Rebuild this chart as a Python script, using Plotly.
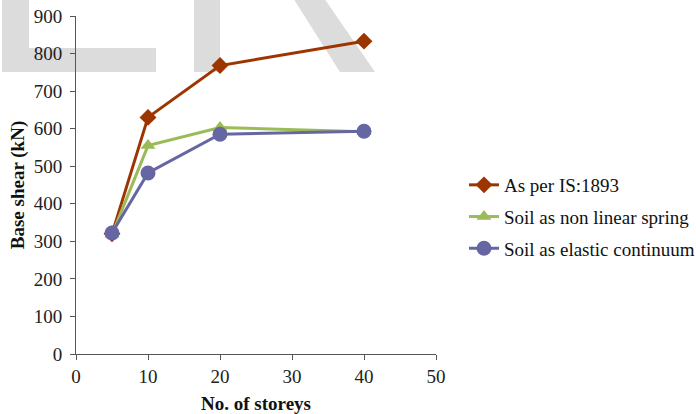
import plotly.graph_objects as go

storeys = [5, 10, 20, 40]
is1893 = [320, 630, 768, 833]
nonlinear_spring = [318, 555, 603, 592]
elastic_continuum = [322, 482, 585, 593]

x_ticks = [0, 10, 20, 30, 40, 50]
y_ticks = [0, 100, 200, 300, 400, 500, 600, 700, 800, 900]

W, H = 696, 414
L, R, T, B = 76, 260, 16, 60
pw, ph = W - L - R, H - T - B

def px(x):
    return (x - L) / pw

def py(y):
    return (H - B - y) / ph

font = "Liberation Serif"
FS = 19

fig = go.Figure()
fig.add_trace(go.Scatter(x=storeys, y=is1893, name="As per IS:1893", mode="lines+markers",
                         line=dict(color="#9C3500", width=3),
                         marker=dict(symbol="diamond", size=13, color="#9C3500"),
                         legendgroup="a"))
fig.add_trace(go.Scatter(x=storeys, y=nonlinear_spring, name="Soil as non linear spring", mode="lines+markers",
                         line=dict(color="#9BBB59", width=3),
                         marker=dict(symbol="triangle-up", size=13, color="#9BBB59"),
                         legendgroup="b"))
fig.add_trace(go.Scatter(x=storeys, y=elastic_continuum, name="Soil as elastic continuum", mode="lines+markers",
                         line=dict(color="#6666A3", width=3),
                         marker=dict(symbol="circle", size=15, color="#6666A3"),
                         legendgroup="c"))

gray = "#DCDCDC"
shapes = []
def rect(x0, y0, x1, y1):
    shapes.append(dict(type="rect", xref="paper", yref="paper",
                       x0=px(x0), x1=px(x1), y0=py(y1), y1=py(y0),
                       fillcolor=gray, line=dict(width=0), layer="below"))
rect(2, -2, 29, 72)
rect(2, 48, 156, 72)
rect(194, -2, 220, 72)
pts = [(293, -2), (324, -2), (375, 72), (340, 72)]
path = "M " + " L ".join(f"{px(a)},{py(b)}" for a, b in pts) + " Z"
shapes.append(dict(type="path", xref="paper", yref="paper", path=path,
                   fillcolor=gray, line=dict(width=0), layer="below"))

fig.update_layout(
    width=W, height=H,
    margin=dict(l=L, r=R, t=T, b=B, autoexpand=False),
    paper_bgcolor="white", plot_bgcolor="rgba(0,0,0,0)",
    font=dict(family=font, size=FS, color="#222222"),
    shapes=shapes,
    showlegend=True,
    legend=dict(x=px(464), y=py(166), xanchor="left", yanchor="top",
                font=dict(family=font, size=FS, color="#111111"),
                tracegroupgap=4, bgcolor="rgba(0,0,0,0)"),
    xaxis=dict(range=[0, 50], tickvals=x_ticks, showgrid=False, zeroline=False,
               showline=True, linecolor="#555555", linewidth=1, automargin=False,
               ticks="outside", ticklen=5, tickcolor="#555555",
               tickfont=dict(family=font, size=FS, color="#222222"),
               title=dict(text="<b>No. of storeys</b>", standoff=11,
                          font=dict(family=font, size=FS, color="#111111"))),
    yaxis=dict(range=[0, 900], tickvals=y_ticks, showgrid=False, zeroline=False,
               showline=True, linecolor="#555555", linewidth=1, automargin=False,
               ticks="outside", ticklen=5, tickcolor="#555555", ticklabelstandoff=4,
               tickfont=dict(family=font, size=FS, color="#222222"),
               title=dict(text="<b>Base shear (kN)</b>", standoff=4,
                          font=dict(family=font, size=FS, color="#111111"))),
)

fig.write_html("out.html", config={"displayModeBar": False},
               post_script="document.body.style.margin='0px';")
